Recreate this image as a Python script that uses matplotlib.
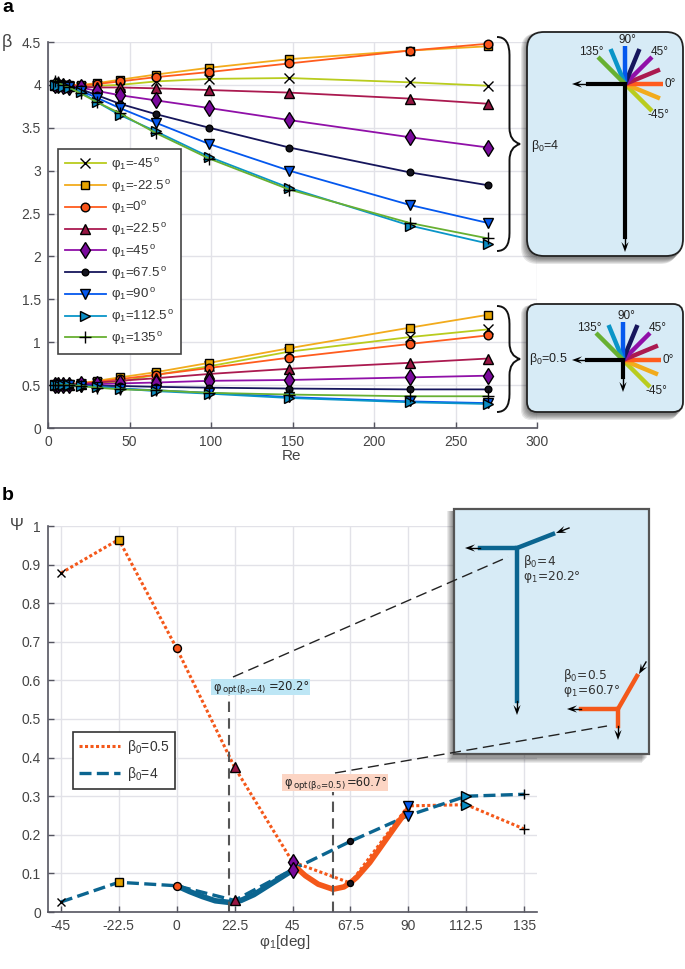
import matplotlib
matplotlib.use('Agg')
import math
import matplotlib.pyplot as plt
from matplotlib.patches import FancyBboxPatch, PathPatch, Polygon, Rectangle
from matplotlib.path import Path

plt.rcParams['font.family'] = ['Liberation Sans', 'DejaVu Sans']
plt.rcParams['mathtext.default'] = 'regular'

# panel a data
re = [4.5, 6, 9, 13, 20, 30, 44, 66, 99, 148, 222, 270]
angles = [-45, -22.5, 0, 22.5, 45, 67.5, 90, 112.5, 135]
legend_labels = ['φ$_1$=-45$^{\\,o}$', 'φ$_1$=-22.5$^{\\,o}$', 'φ$_1$=0$^o$', 'φ$_1$=22.5$^{\\,o}$',
                 'φ$_1$=45$^{\\,o}$', 'φ$_1$=67.5$^{\\,o}$', 'φ$_1$=90$^{\\,o}$',
                 'φ$_1$=112.5$^{\\,o}$', 'φ$_1$=135$^{\\,o}$']
line_colors = ['#b9cc1e', '#f2ab1c', '#ff5c1e', '#ab1a50', '#9010a8', '#16165c', '#0458ee', '#0a95c8', '#68b032']
face_colors = ['k', '#e6a300', '#f9541a', '#971542', '#7a0a9c', '#14141f', '#0458ee', '#0a8cc4', 'k']
markers = ['x', 's', 'o', '^', 'd', 'o', 'v', '>', '+']
marker_sizes = [6.5, 5.6, 6.2, 7, 8.2, 4.8, 7, 7, 8]

beta4 = [
    [4.00, 4.00, 4.00, 3.99, 3.98, 3.99, 4.00, 4.04, 4.07, 4.08, 4.03, 3.99],
    [4.00, 4.00, 4.00, 4.00, 4.00, 4.02, 4.06, 4.12, 4.20, 4.30, 4.40, 4.45],
    [4.00, 4.00, 4.00, 4.00, 3.99, 4.01, 4.04, 4.09, 4.15, 4.25, 4.40, 4.48],
    [4.00, 4.00, 4.00, 3.99, 3.98, 3.97, 3.97, 3.96, 3.94, 3.91, 3.84, 3.78],
    [4.00, 4.00, 3.99, 3.98, 3.97, 3.93, 3.88, 3.82, 3.73, 3.59, 3.39, 3.27],
    [4.00, 4.00, 3.99, 3.98, 3.95, 3.88, 3.78, 3.66, 3.50, 3.27, 2.98, 2.83],
    [4.00, 4.00, 3.99, 3.97, 3.93, 3.85, 3.73, 3.56, 3.31, 3.00, 2.60, 2.39],
    [4.00, 3.99, 3.98, 3.96, 3.92, 3.80, 3.65, 3.46, 3.16, 2.80, 2.36, 2.15],
    [4.05, 4.03, 4.00, 3.97, 3.90, 3.80, 3.67, 3.44, 3.14, 2.78, 2.39, 2.21],
]
beta05 = [
    [0.50, 0.50, 0.50, 0.50, 0.51, 0.52, 0.54, 0.62, 0.72, 0.89, 1.06, 1.15],
    [0.50, 0.50, 0.50, 0.51, 0.52, 0.55, 0.59, 0.65, 0.76, 0.93, 1.17, 1.32],
    [0.50, 0.50, 0.50, 0.51, 0.52, 0.54, 0.57, 0.62, 0.70, 0.82, 0.98, 1.08],
    [0.50, 0.50, 0.50, 0.50, 0.51, 0.53, 0.55, 0.58, 0.63, 0.69, 0.76, 0.81],
    [0.50, 0.50, 0.50, 0.50, 0.51, 0.51, 0.52, 0.53, 0.55, 0.56, 0.59, 0.61],
    [0.50, 0.50, 0.50, 0.50, 0.50, 0.49, 0.49, 0.48, 0.47, 0.46, 0.45, 0.45],
    [0.50, 0.50, 0.50, 0.50, 0.49, 0.48, 0.46, 0.44, 0.41, 0.36, 0.31, 0.29],
    [0.50, 0.50, 0.50, 0.50, 0.49, 0.48, 0.46, 0.43, 0.40, 0.35, 0.30, 0.28],
    [0.50, 0.50, 0.50, 0.50, 0.49, 0.47, 0.45, 0.44, 0.41, 0.39, 0.37, 0.37],
]

# panel b data
psi05 = [0.878, 0.965, 0.683, 0.375, 0.130, 0.075, 0.275, 0.278, 0.215]
psi4 = [0.026, 0.077, 0.068, 0.030, 0.110, 0.183, 0.250, 0.300, 0.305]
fit4_x = [0, 5, 10, 15, 20.2, 25, 30, 35, 40, 45]
fit4_y = [0.068, 0.053, 0.040, 0.029, 0.025, 0.030, 0.045, 0.066, 0.087, 0.108]
fit05_x = [47, 50, 55, 60.7, 65, 67.5, 70, 75, 80, 85, 90]
fit05_y = [0.112, 0.094, 0.072, 0.059, 0.065, 0.076, 0.090, 0.128, 0.175, 0.222, 0.268]
opt_x = [20.2, 60.7]
opt_top = [0.566, 0.31]

W, H = 685, 969
GREY = '#444444'
GRID = '#e2e2e8'
BLUE = '#0b6590'
ORANGE = '#f4581a'
PANEL = '#d7ebf6'

fig = plt.figure(figsize=(W / 100, H / 100), dpi=100)


def make_axes(left, top, right, bottom):
    ax = fig.add_axes([left / W, 1 - bottom / H, (right - left) / W, (bottom - top) / H])
    ax.grid(True, color=GRID, lw=1)
    ax.set_axisbelow(True)
    for s in ['top', 'right']:
        ax.spines[s].set_visible(False)
    for s in ['left', 'bottom']:
        ax.spines[s].set_color('#555560')
        ax.spines[s].set_linewidth(1.2)
    ax.tick_params(direction='in', length=4, width=1, color='#555560', labelcolor=GREY,
                   labelsize=10, pad=5)
    return ax


# panel a
ax = make_axes(48, 42, 537, 428)
for i in range(len(angles)):
    for series, lab in ((beta4, legend_labels[i]), (beta05, None)):
        ax.plot(re, series[i], color=line_colors[i], lw=1.3, marker=markers[i], ms=marker_sizes[i],
                mfc=face_colors[i], mec='k', mew=1, label=lab, clip_on=False)
ax.set_xlim(0, 300)
ax.set_ylim(0, 4.5)
ax.set_xticks([0, 50, 100, 150, 200, 250, 300])
ax.set_yticks([0, 0.5, 1, 1.5, 2, 2.5, 3, 3.5, 4, 4.5])
ax.set_yticklabels(['0', '0.5', '1', '1.5', '2', '2.5', '3', '3.5', '4', '4.5'])
leg = ax.legend(loc='upper left', bbox_to_anchor=(10 / 489, (428 - 149) / 386), fontsize=9.5,
                labelspacing=0.36, handlelength=3.1, handletextpad=0.36, borderpad=0.53,
                borderaxespad=0, fancybox=False, framealpha=1, edgecolor='#444444', labelcolor='#333333')
leg.get_frame().set_linewidth(1.2)
leg.set_zorder(20)

# panel b
bx = make_axes(48, 526, 537, 912)
bx.plot(angles, psi05, color=ORANGE, lw=2.2, ls=(0, (1, 0.8)), label='β$_0$=0.5')
bx.plot(angles, psi4, color=BLUE, lw=2.4, ls=(0, (3.6, 1.6)), label='β$_0$=4')
bx.plot(fit4_x, fit4_y, color=BLUE, lw=4, solid_capstyle='round')
bx.plot(fit05_x, fit05_y, color=ORANGE, lw=4, solid_capstyle='round')
for x, top in zip(opt_x, opt_top):
    bx.plot([x, x], [0, top], color='#555555', lw=1.5, ls=(0, (5, 3)))
for i in range(len(angles)):
    for vals in (psi05, psi4):
        bx.plot(angles[i], vals[i], color='none', marker=markers[i], ms=marker_sizes[i] - 0.5,
                mfc=face_colors[i], mec='k', mew=1, clip_on=False, zorder=5)
bx.set_xlim(-50, 140)
bx.set_ylim(0, 1)
bx.set_xticks(angles)
bx.set_xticklabels(['-45', '-22.5', '0', '22.5', '45', '67.5', '90', '112.5', '135'])
bx.set_yticks([i / 10 for i in range(11)])
bx.set_yticklabels(['0', '0.1', '0.2', '0.3', '0.4', '0.5', '0.6', '0.7', '0.8', '0.9', '1'])
leg2 = bx.legend(loc='upper left', bbox_to_anchor=(25 / 489, (912 - 732) / 386), fontsize=10,
                 labelspacing=0.69, handlelength=3, handletextpad=0.5, borderpad=0.4,
                 borderaxespad=0, fancybox=False, framealpha=1, edgecolor='#333333', labelcolor='#333333')
leg2.get_frame().set_linewidth(1.2)

# overlay in pixel coordinates for the schematic parts
ov = fig.add_axes([0, 0, 1, 1], zorder=10)
ov.set_xlim(0, W)
ov.set_ylim(H, 0)
ov.axis('off')
ov.patch.set_alpha(0)


def brace(x0, x1, y0, y1):
    ym = (y0 + y1) / 2
    xm = (x0 + x1) / 2 + 1
    verts = [(x0, y0), (xm, y0), (xm, y0 + 18),
             (xm, ym - 16), (xm, ym - 3), (x1, ym),
             (xm, ym + 3), (xm, ym + 16),
             (xm, y1 - 18), (xm, y1), (x0, y1)]
    codes = [Path.MOVETO, Path.CURVE3, Path.CURVE3,
             Path.LINETO, Path.CURVE3, Path.CURVE3,
             Path.CURVE3, Path.CURVE3,
             Path.LINETO, Path.CURVE3, Path.CURVE3]
    ov.add_patch(PathPatch(Path(verts, codes), fc='none', ec='#111111', lw=1.4))


def arrow(x0, y0, x1, y1):
    # thin shaft with a barbed head, tip at x1, y1
    d = math.hypot(x1 - x0, y1 - y0)
    ux, uy = (x1 - x0) / d, (y1 - y0) / d
    back = 10
    wing = 3.6
    head = [(x1, y1),
            (x1 - back * ux - wing * uy, y1 - back * uy + wing * ux),
            (x1 - 0.6 * back * ux, y1 - 0.6 * back * uy),
            (x1 - back * ux + wing * uy, y1 - back * uy - wing * ux)]
    ov.plot([x0, x1 - 5 * ux], [y0, y1 - 5 * uy], color='k', lw=1)
    ov.add_patch(Polygon(head, closed=True, fc='k', ec='none', zorder=6))


def round_panel(x0, y0, x1, y1, rad):
    for k in range(6):
        d = 1.5 + k * 1.1
        ov.add_patch(FancyBboxPatch((x0 - d + 1, y0 + 1), x1 - x0, y1 - y0 + d,
                                    boxstyle='round,pad=0,rounding_size=%g' % rad,
                                    fc='k', ec='none', alpha=0.10))
    ov.add_patch(FancyBboxPatch((x0, y0), x1 - x0, y1 - y0, boxstyle='round,pad=0,rounding_size=%g' % rad,
                                fc=PANEL, ec='#222222', lw=1.3))


def fan(cx, cy, r):
    # unit vectors of the inlet directions, one per angle
    dirs = [(0.71, 0.71), (0.92, 0.38), (1, 0), (0.92, -0.38), (0.71, -0.71),
            (0.38, -0.92), (0, -1), (-0.38, -0.92), (-0.71, -0.71)]
    for c, (dx, dy) in zip(line_colors, dirs):
        ov.plot([cx, cx + r * dx], [cy, cy + r * dy], color=c, lw=3.2, solid_capstyle='butt')


def small_text(x, y, s, size=8.5, color='#222222', **kw):
    ov.text(x, y, s, fontsize=size, color=color, ha='center', va='center', **kw)


def opt_label(x0, x1, y0, y1, sub, tail, sub_x, tail_x, color):
    ov.add_patch(Rectangle((x0, y0), x1 - x0, y1 - y0, fc=color, ec='none'))
    ym = (y0 + y1) / 2
    ov.text(x0 + 2, ym, 'φ', fontsize=8.3, color='#222222', ha='left', va='center', family='DejaVu Sans')
    ov.text(sub_x, ym + 2.5, sub, fontsize=6.2, color='#222222', ha='left', va='center', family='DejaVu Sans')
    ov.text(tail_x, ym, tail, fontsize=8.3, color='#222222', ha='left', va='center', family='DejaVu Sans')


brace(497, 520, 37, 251)
brace(497, 520, 306, 412)

# large schematic
round_panel(527, 32, 683, 256, 17)
fan(625, 84, 38)
ov.plot([588, 625, 625], [84, 84, 237], color='k', lw=3, solid_joinstyle='miter')
arrow(588, 84, 572, 84)
arrow(625, 237, 625, 252)
small_text(627, 40, '90°')
small_text(591, 52, '135°')
small_text(660, 52, '45°')
small_text(670, 84, '0°')
small_text(658, 115, '-45°')
small_text(545, 146, 'β$_0$=4', size=9)

# small schematic
round_panel(527, 304, 683, 412, 10)
fan(623, 360, 38)
ov.plot([587, 623, 623], [360, 360, 377], color='k', lw=3, solid_joinstyle='miter')
arrow(587, 360, 572, 360)
arrow(623, 377, 623, 392)
small_text(626, 316, '90°')
small_text(589, 328, '135°')
small_text(658, 328, '45°')
small_text(668, 360, '0°')
small_text(656, 391, '-45°')
small_text(548, 359, 'β$_0$=0.5', size=9)

# panel b inset
for k in range(6):
    d = 1.5 + k * 1.1
    ov.add_patch(Rectangle((454 - d, 509 + 2), 195, 245 + d, fc='k', ec='none', alpha=0.08))
ov.add_patch(Rectangle((454, 509), 195, 245, fc=PANEL, ec='#555555', lw=1.6))
ov.plot([480, 517, 553], [548, 548, 534], color=BLUE, lw=3.2, solid_joinstyle='miter')
ov.plot([517, 517], [548, 701], color=BLUE, lw=3.2)
arrow(480, 548, 465, 548)
arrow(517, 701, 517, 715)
arrow(569, 528, 556, 533)
ov.plot([581, 618, 637], [709, 709, 676], color=ORANGE, lw=3.2, solid_joinstyle='miter')
ov.plot([618, 618], [709, 726], color=ORANGE, lw=3.2)
arrow(581, 709, 567, 709)
arrow(618, 726, 618, 740)
arrow(646, 662, 639, 674)
ov.plot([233, 508], [677, 557], color='#222222', lw=1, ls=(0, (8, 4)))
ov.plot([335, 607], [773, 726], color='#222222', lw=1, ls=(0, (8, 4)))
for x, y, s in [(523, 561, 'β$_0$=4'), (523, 577, 'φ$_1$=20.2°'),
                (563, 675, 'β$_0$=0.5'), (563, 691, 'φ$_1$=60.7°')]:
    ov.text(x, y, s, fontsize=8.8, color='#333333', ha='left', va='center', family='DejaVu Sans')

# optimum labels
opt_label(211, 310, 679, 695, 'opt(β$_0$=4)', '=20.2°', 222, 269, '#bde6f5')
opt_label(282, 388, 774, 791, 'opt(β$_0$=0.5)', '=60.7°', 293, 347, '#fcd5c4')

# panel letters and axis labels
ov.text(2, 12, 'a', fontsize=14, fontweight='bold', va='baseline')
ov.text(2, 500, 'b', fontsize=14, fontweight='bold', va='baseline')
ov.text(7, 42, 'β', fontsize=13, color=GREY, ha='center', va='center')
ov.text(292, 456, 'Re', fontsize=11, color=GREY, ha='center', va='center')
ov.text(17, 526, 'Ψ', fontsize=12, color=GREY, ha='center', va='center')
ov.text(285, 942, 'φ$_1$[deg]', fontsize=11, color=GREY, ha='center', va='center')

fig.savefig('out.png', dpi=100)
